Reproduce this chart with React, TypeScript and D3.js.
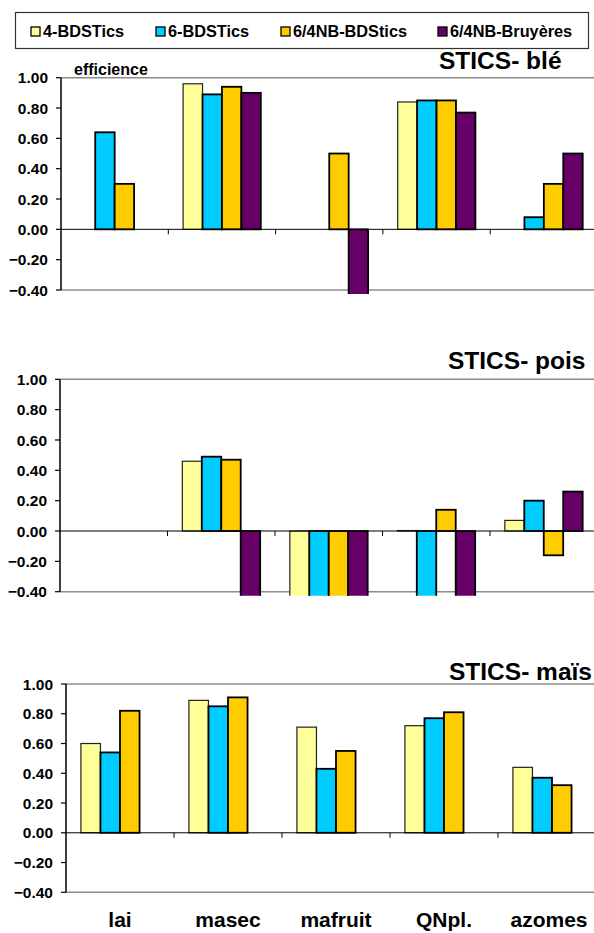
import React from 'react';
import * as d3 from 'd3';

const categories = ['lai', 'masec', 'mafruit', 'QNpl.', 'azomes'];
const seriesNames = ['4-BDSTics', '6-BDSTics', '6/4NB-BDStics', '6/4NB-Bruyères'];
const seriesColors = ['#FFFF99', '#00CCFF', '#FFCC00', '#660066'];
const yTicks = [1.0, 0.8, 0.6, 0.4, 0.2, 0.0, -0.2, -0.4];

// STICS- blé
const ble4BDS = [null, 0.96, null, 0.84, null];
const ble6BDS = [0.64, 0.89, null, 0.85, 0.08];
const ble64NB = [0.30, 0.94, 0.50, 0.85, 0.30];
const ble64Bru = [null, 0.90, -0.55, 0.77, 0.50];

// STICS- pois
const pois4BDS = [null, 0.46, -0.6, 0.003, 0.07];
const pois6BDS = [null, 0.49, -0.6, -0.6, 0.20];
const pois64NB = [null, 0.47, -0.6, 0.14, -0.16];
const pois64Bru = [null, -0.6, -0.6, -0.6, 0.26];

// STICS- maïs
const mais4BDS = [0.60, 0.89, 0.71, 0.72, 0.44];
const mais6BDS = [0.54, 0.85, 0.43, 0.77, 0.37];
const mais64NB = [0.82, 0.91, 0.55, 0.81, 0.32];
const mais64Bru = [null, null, null, null, null];

const FONT = 'Liberation Sans, Arial, Helvetica, sans-serif';

type Panel = {
  id: string;
  title: string;
  titleX: number;
  titleY: number;
  series: (number | null)[][];
  axisX: number;
  xEnd: number;
  yTop: number;
  yBot: number;
  showYLabel: boolean;
  showXLabels: boolean;
};

const panels: Panel[] = [
  { id: 'ble', title: 'STICS- blé', titleX: 439, titleY: 68.5, series: [ble4BDS, ble6BDS, ble64NB, ble64Bru],
    axisX: 61, xEnd: 597.5, yTop: 77.7, yBot: 290, showYLabel: true, showXLabels: false },
  { id: 'pois', title: 'STICS- pois', titleX: 448, titleY: 368.5, series: [pois4BDS, pois6BDS, pois64NB, pois64Bru],
    axisX: 60, xEnd: 597.5, yTop: 379.3, yBot: 591.7, showYLabel: false, showXLabels: false },
  { id: 'mais', title: 'STICS- maïs', titleX: 449, titleY: 679.5, series: [mais4BDS, mais6BDS, mais64NB, mais64Bru],
    axisX: 66, xEnd: 606, yTop: 684, yBot: 892.3, showYLabel: false, showXLabels: true },
];

function ChartPanel({ p }: { p: Panel }) {
  const x0 = d3.scaleBand<string>().domain(categories).range([p.axisX, p.xEnd]).paddingInner(0).paddingOuter(0);
  const bw = x0.bandwidth();
  const x1 = d3.scaleBand<number>().domain([0, 1, 2, 3]).range([bw * 0.138, bw * 0.862]).padding(0);
  const y = d3.scaleLinear().domain([-0.4, 1.0]).range([p.yBot, p.yTop]);
  const y0 = y(0);
  const clipId = `clip-${p.id}`;
  return (
    <g>
      <defs>
        <clipPath id={clipId}>
          <rect x={p.axisX} y={p.yTop - 5} width={600} height={p.yBot - p.yTop + 9} />
        </clipPath>
      </defs>
      <line x1={p.axisX} x2={594} y1={y(1)} y2={y(1)} stroke="#8c8c8c" strokeWidth={1.6} />
      <line x1={p.axisX} x2={594} y1={y(-0.4)} y2={y(-0.4)} stroke="#8c8c8c" strokeWidth={1.6} />
      <g clipPath={`url(#${clipId})`}>
        {p.series.map((vals, si) =>
          vals.map((v, ci) => {
            if (v === null) return null;
            const bx = (x0(categories[ci]) as number) + (x1(si) as number);
            const top = Math.min(y(v), y0);
            const h = Math.abs(y(v) - y0);
            return (
              <rect key={`${si}-${ci}`} x={bx} y={top} width={x1.bandwidth()} height={h}
                fill={seriesColors[si]} stroke={si === 0 ? '#222' : '#000'} strokeWidth={si === 0 ? 1.2 : 1.8} />
            );
          })
        )}
      </g>
      <line x1={p.axisX} x2={594} y1={y0} y2={y0} stroke="#000" strokeWidth={1} />
      {categories.slice(1).map((c) => (
        <line key={c} x1={x0(c) as number} x2={x0(c) as number} y1={y0} y2={y0 + 5} stroke="#000" strokeWidth={1} />
      ))}
      <line x1={p.axisX} x2={p.axisX} y1={y(1)} y2={y(-0.4)} stroke="#000" strokeWidth={1.5} />
      {yTicks.map((t) => (
        <g key={t}>
          <line x1={p.axisX - 5} x2={p.axisX} y1={y(t)} y2={y(t)} stroke="#000" strokeWidth={1.2} />
          <text x={p.axisX - 13} y={y(t)} dy="0.36em" textAnchor="end" fontFamily={FONT} fontWeight="bold" fontSize={15.5} fill="#000">
            {d3.format('.2f')(t)}
          </text>
        </g>
      ))}
      <text x={p.titleX} y={p.titleY} fontFamily={FONT} fontWeight="bold" fontSize={24.5} fill="#000">{p.title}</text>
      {p.showYLabel && (
        <text x={74} y={75.3} fontFamily={FONT} fontWeight="bold" fontSize={16} fill="#000">efficience</text>
      )}
      {p.showXLabels && categories.map((c) => (
        <text key={c} x={Math.min((x0(c) as number) + bw / 2, 549)} y={927} textAnchor="middle" fontFamily={FONT} fontWeight="bold" fontSize={21} fill="#000">{c}</text>
      ))}
    </g>
  );
}

const legendSwatchX = [31, 156, 281, 438];

export default function App() {
  return (
    <svg width={594} height={933} style={{ position: 'absolute', left: 0, top: 0, background: '#fff' }}>
      <rect x={0} y={0} width={594} height={933} fill="#fff" />
      <rect x={15.5} y={12.5} width={573} height={36} fill="#fff" stroke="#333" strokeWidth={1.2} />
      {seriesNames.map((n, i) => (
        <g key={n}>
          <rect x={legendSwatchX[i]} y={27} width={9} height={9} fill={seriesColors[i]} stroke="#000" strokeWidth={1.3} />
          <text x={legendSwatchX[i] + 12} y={36.5} fontFamily={FONT} fontWeight="bold" fontSize={16.3} fill="#000">{n}</text>
        </g>
      ))}
      {panels.map((p) => <ChartPanel key={p.id} p={p} />)}
    </svg>
  );
}
